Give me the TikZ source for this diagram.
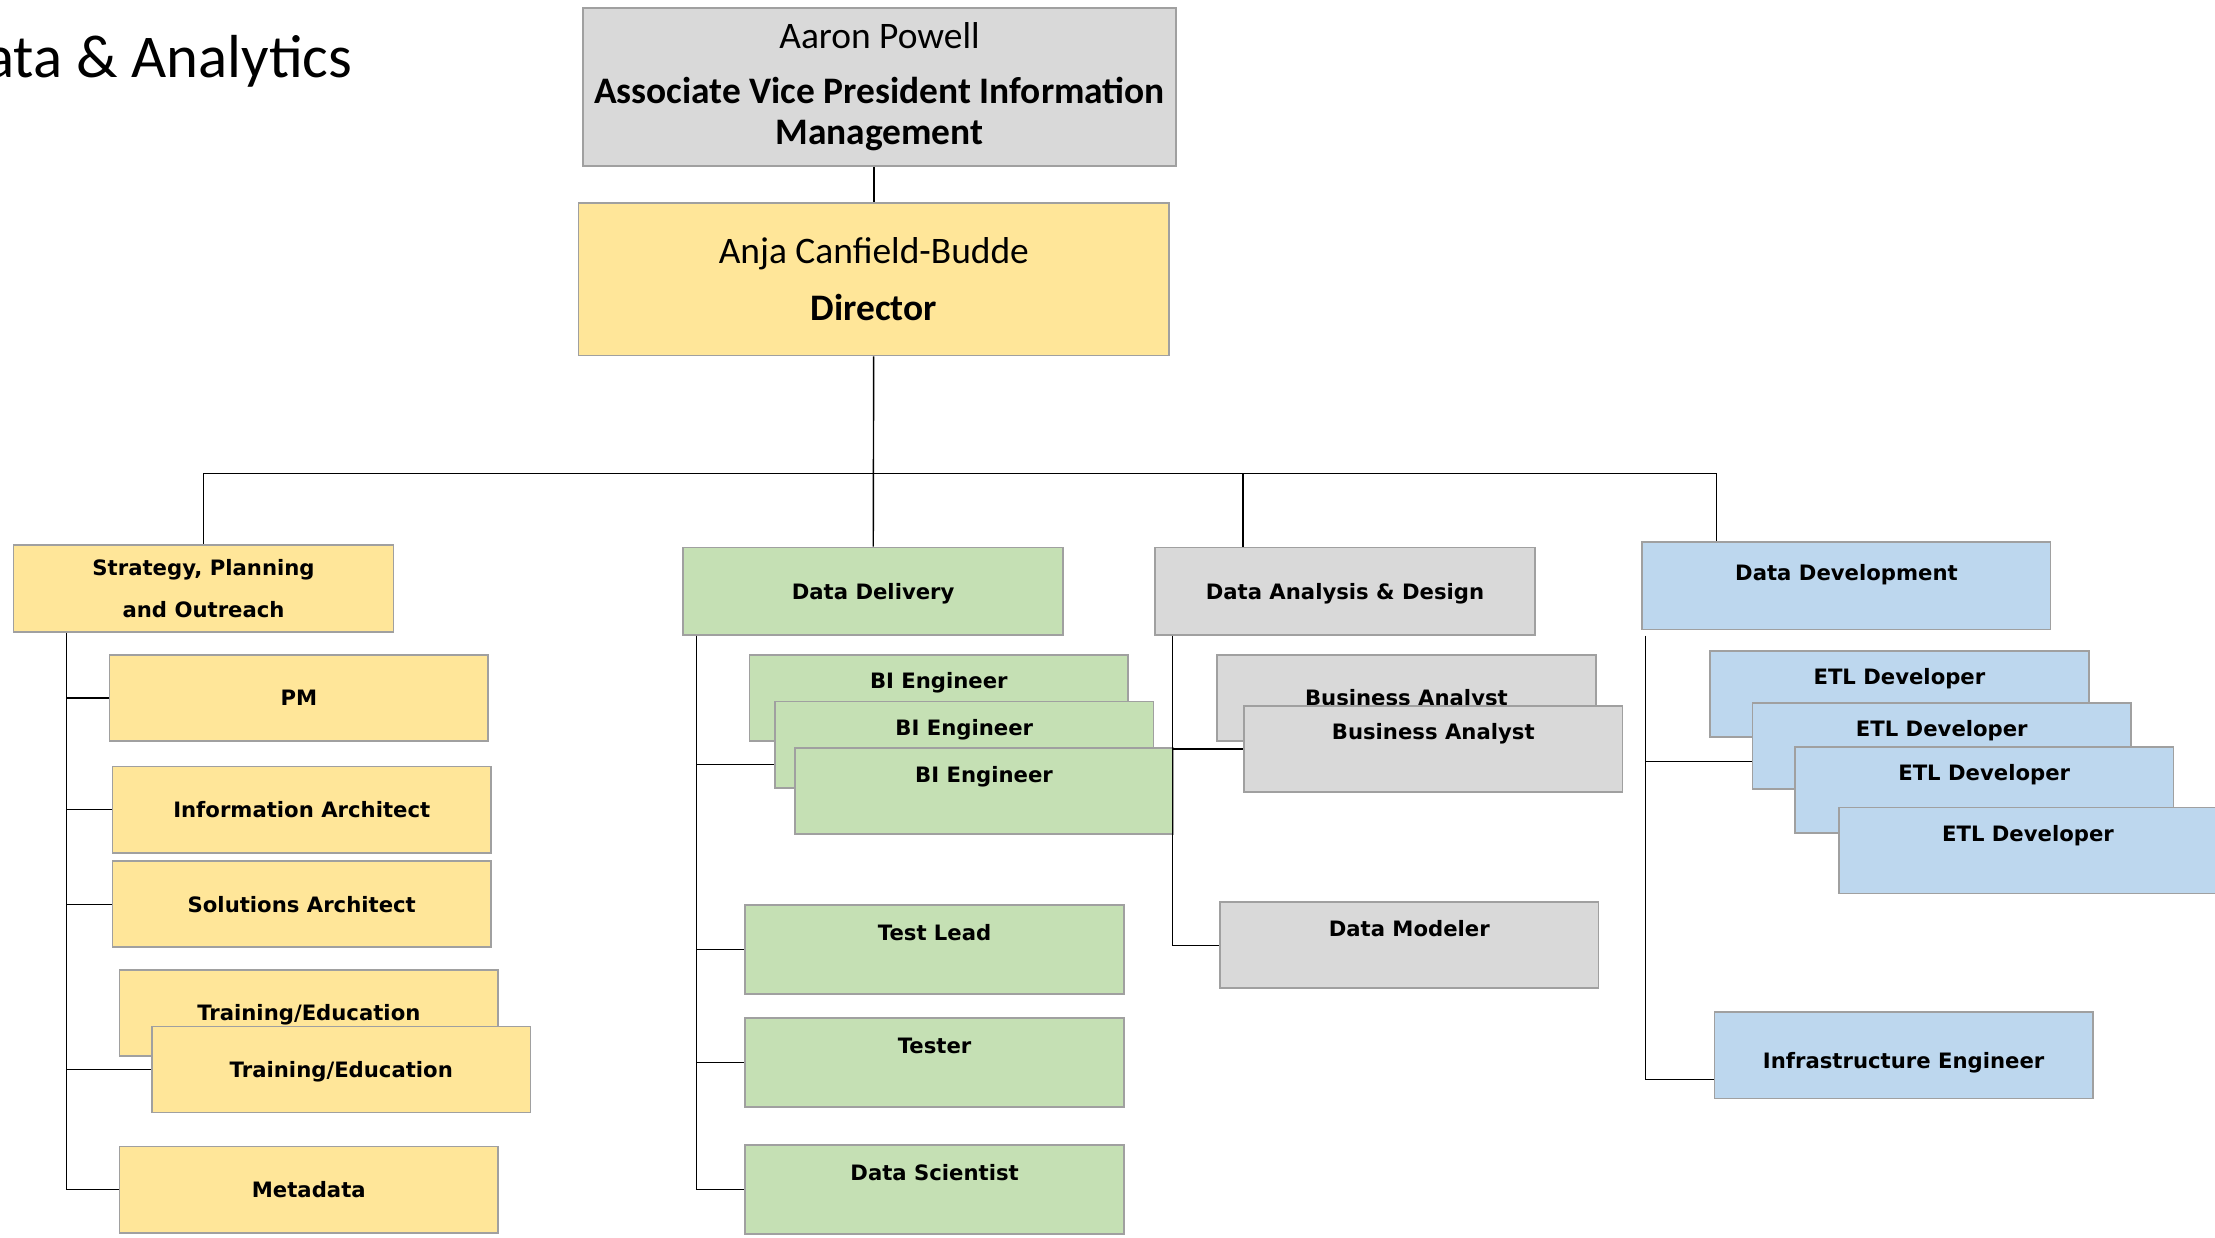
\documentclass[tikz,border=0pt]{standalone}
\usepackage{fontspec}
\setmainfont{Carlito}
\newfontfamily\unitfont{DejaVu Sans}
\definecolor{boxline}{RGB}{160,160,160}
\definecolor{orggray}{RGB}{217,217,217}
\definecolor{orgyellow}{RGB}{255,230,153}
\definecolor{orggreen}{RGB}{197,224,180}
\definecolor{orgblue}{RGB}{189,215,238}
\begin{document}
\begin{tikzpicture}[x=1pt,y=-1pt]
\tikzset{box/.style={draw=boxline,line width=1.2pt,fill=#1,anchor=north west,inner sep=0pt,align=center,minimum width=268pt,minimum height=61pt,font=\unitfont\bfseries\fontsize{15}{30}\selectfont},
unit/.style={box=#1,text height=11pt,text depth=0pt},
upper/.style={text depth=24pt},
link/.style={line width=1pt}}
\useasboundingbox (0,0) rectangle (1568,876);
\node[anchor=base east,font=\fontsize{43}{43}\selectfont] (title) at (253,55) {Data \& Analytics};
\node[box=orggray,minimum width=420pt,minimum height=112pt,font=\fontsize{26.5}{29}\selectfont] (avp) at (412,5) {Aaron Powell\\[10pt]\textbf{Associate Vice President Information}\\\textbf{Management}};
\node[box=orgyellow,minimum width=418pt,minimum height=108pt,font=\fontsize{26.5}{40}\selectfont] (dir) at (409,143) {Anja Canfield-Budde\\\textbf{Director}};
\node[box=orgyellow,minimum width=269pt,minimum height=62pt] (strat) at (9,385) {Strategy, Planning\\and Outreach};
\node[unit=orggreen,minimum width=269pt,minimum height=62pt] (dd) at (483,387) {Data Delivery};
\node[unit=orggray,minimum width=269pt,minimum height=62pt] (dad) at (817,387) {Data Analysis \& Design};
\node[unit=orgblue,minimum width=289pt,minimum height=62pt,text depth=18pt] (ddev) at (1162,383) {Data Development};
\node[unit=orgyellow] (pm) at (77,463) {PM};
\node[unit=orgyellow] (ia) at (79,542) {Information Architect};
\node[unit=orgyellow] (sa) at (79,609) {Solutions Architect};
\node[unit=orgyellow] (te1) at (84,686) {Training/Education};
\node[unit=orgyellow] (te2) at (107,726) {Training/Education};
\node[unit=orgyellow] (meta) at (84,811) {Metadata};
\node[unit=orggreen,upper] (bi1) at (530,463) {BI Engineer};
\node[unit=orggreen,upper] (bi2) at (548,496) {BI Engineer};
\node[unit=orggreen,upper] (bi3) at (562,529) {BI Engineer};
\node[unit=orggreen,upper,minimum height=63pt] (lead) at (527,640) {Test Lead};
\node[unit=orggreen,upper,minimum height=63pt] (tester) at (527,720) {Tester};
\node[unit=orggreen,upper,minimum height=63pt] (sci) at (527,810) {Data Scientist};
\node[unit=orggray] (ba1) at (861,463) {Business Analyst};
\node[unit=orggray,upper] (ba2) at (880,499) {Business Analyst};
\node[unit=orggray,upper] (dm) at (863,638) {Data Modeler};
\node[unit=orgblue,upper] (etl1) at (1210,460) {ETL Developer};
\node[unit=orgblue,upper] (etl2) at (1240,497) {ETL Developer};
\node[unit=orgblue,upper] (etl3) at (1270,528) {ETL Developer};
\node[unit=orgblue,upper] (etl4) at (1301,571) {ETL Developer};
\node[unit=orgblue,text height=18pt] (infra) at (1213,716) {Infrastructure Engineer};
\draw[link] (avp.south -| dir.north) -- (dir.north);
\draw[link] (dir) -- (dd);
\draw[link] (strat.north) -- ++(0,-50) -| ([xshift=53pt]ddev.north west);
\draw[link] ([xshift=63pt]dad.north west) -- ++(0,-52);
\foreach \n in {pm,ia,sa,te2,meta}
\draw[link] ([xshift=38pt]strat.south west) |- (\n.west);
\draw[link] ([xshift=10pt]dd.south west) |- ([yshift=-14pt]bi2.west);
\foreach \n in {lead,tester,sci}
\draw[link] ([xshift=10pt]dd.south west) |- (\n.west);
\foreach \n in {ba2,dm}
\draw[link] ([xshift=13pt]dad.south west) |- (\n.west);
\draw[link] ([xshift=3pt,yshift=-4pt]ddev.south west) |- ([yshift=-11pt]etl2.west);
\draw[link] ([xshift=3pt,yshift=-4pt]ddev.south west) |- ([yshift=-17pt]infra.west);
\end{tikzpicture}
\end{document}
